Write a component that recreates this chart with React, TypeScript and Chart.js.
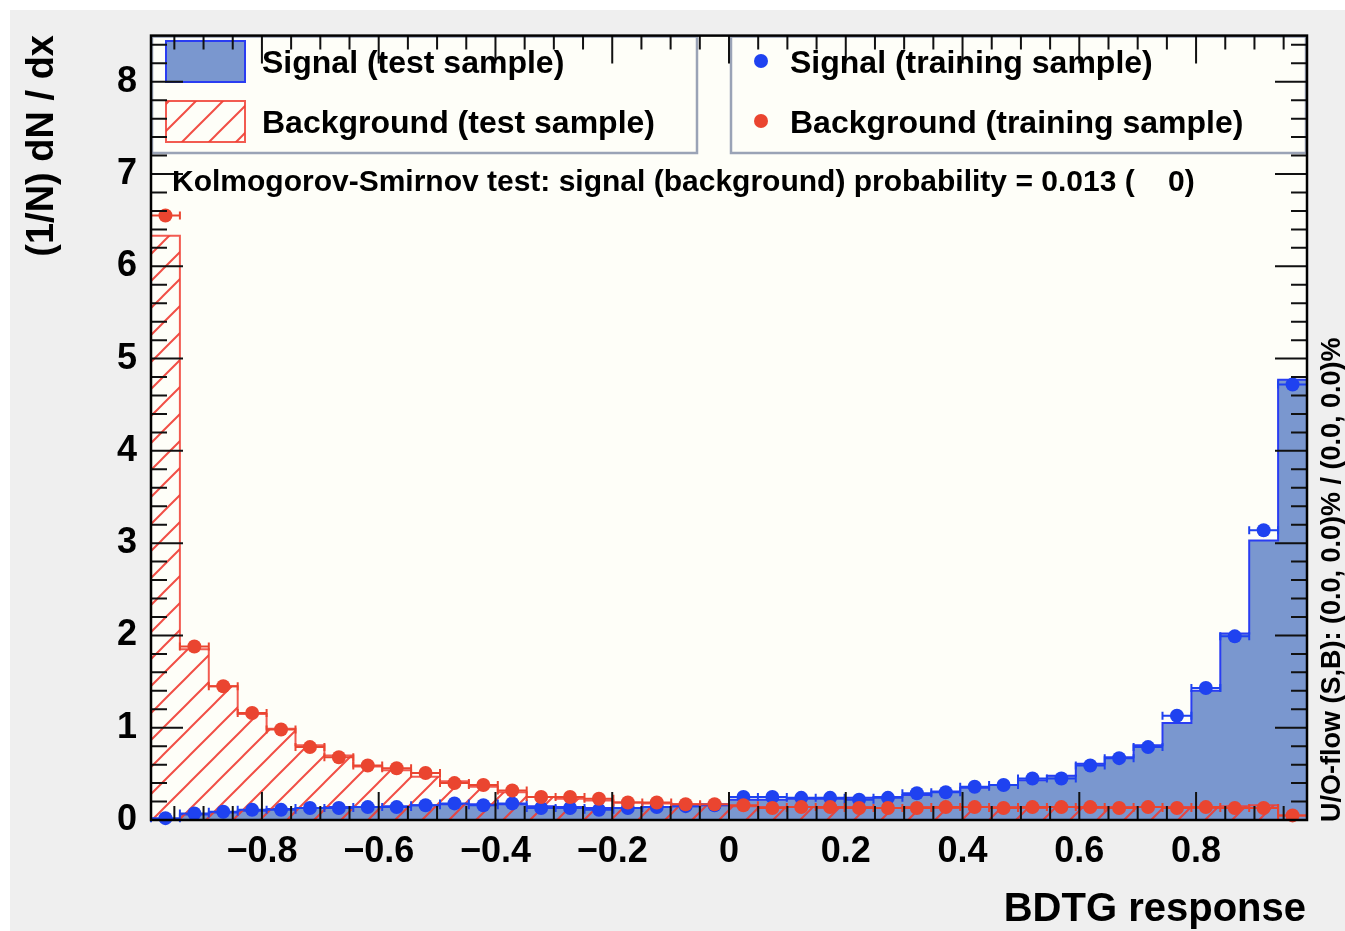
import React, { useEffect, useRef } from 'react';
import { Chart, registerables } from 'chart.js';

Chart.register(...registerables);

// ---- axis ranges & labels ----
const X_MIN = -0.99;
const X_MAX = 0.99;
const Y_MIN = 0;
const Y_MAX = 8.5;
const X_TICKS = [-0.8, -0.6, -0.4, -0.2, 0, 0.2, 0.4, 0.6, 0.8];
const Y_TICKS = [0, 1, 2, 3, 4, 5, 6, 7, 8];

// ---- data (40 bins) ----
const signalTest = [
  0.01, 0.06, 0.08, 0.10, 0.12, 0.13, 0.14, 0.14, 0.15, 0.16,
  0.17, 0.17, 0.17, 0.15, 0.14, 0.13, 0.13, 0.14, 0.15, 0.17,
  0.22, 0.22, 0.23, 0.23, 0.24, 0.25, 0.27, 0.31, 0.35, 0.38,
  0.43, 0.48, 0.61, 0.68, 0.81, 1.05, 1.40, 2.02, 3.03, 4.77,
];
const backgroundTest = [
  6.33, 1.85, 1.45, 1.15, 0.99, 0.81, 0.70, 0.58, 0.54, 0.47,
  0.42, 0.36, 0.30, 0.25, 0.23, 0.21, 0.19, 0.18, 0.17, 0.16,
  0.15, 0.14, 0.14, 0.13, 0.14, 0.13, 0.14, 0.13, 0.14, 0.14,
  0.13, 0.14, 0.13, 0.14, 0.14, 0.14, 0.13, 0.15, 0.16, 0.05,
];
const signalTrain = [
  0.02, 0.07, 0.09, 0.11, 0.11, 0.13, 0.13, 0.14, 0.14, 0.16,
  0.18, 0.16, 0.18, 0.13, 0.13, 0.11, 0.13, 0.14, 0.15, 0.16,
  0.25, 0.25, 0.24, 0.24, 0.22, 0.24, 0.29, 0.30, 0.36, 0.38,
  0.45, 0.45, 0.59, 0.67, 0.79, 1.13, 1.43, 1.99, 3.14, 4.72,
];
const backgroundTrain = [
  6.55, 1.88, 1.45, 1.16, 0.98, 0.79, 0.68, 0.59, 0.56, 0.51,
  0.40, 0.38, 0.32, 0.25, 0.25, 0.23, 0.19, 0.19, 0.17, 0.17,
  0.16, 0.13, 0.14, 0.14, 0.13, 0.13, 0.13, 0.14, 0.14, 0.13,
  0.14, 0.14, 0.14, 0.13, 0.14, 0.13, 0.14, 0.13, 0.13, 0.05,
];

const LEGEND_LABELS = [
  'Signal (test sample)',
  'Background (test sample)',
  'Signal (training sample)',
  'Background (training sample)',
];
const KS_TEXT = 'Kolmogorov-Smirnov test: signal (background) probability = 0.013 (    0)';
const X_TITLE = 'BDTG response';
const Y_TITLE = '(1/N) dN / dx';
const FLOW_TEXT = 'U/O-flow (S,B): (0.0, 0.0)% / (0.0, 0.0)%';

// ---- derived bins ----
const N_BINS = signalTest.length;
const BIN_W = (X_MAX - X_MIN) / N_BINS;
const EDGES = Array.from({ length: N_BINS + 1 }, (_, i) => X_MIN + i * BIN_W);
const CENTERS = EDGES.slice(0, -1).map((e) => e + BIN_W / 2);
// each edge point carries the value of the bin that ends there
const stepData = (v: number[]) => EDGES.map((x, i) => ({ x, y: v[Math.max(i - 1, 0)] }));
const pointData = (v: number[]) => CENTERS.map((x, i) => ({ x, y: v[i] }));

// ---- styles ----
const FONT = '"Liberation Sans", Arial, Helvetica, sans-serif';
const SIG_FILL = '#7a97cf';
const SIG_LINE = '#2a3df2';
const BKG_LINE = 'rgba(240,62,52,0.85)';
const SIG_DOT = '#1f42f0';
const BKG_DOT = '#ea4530';
const PLOT_BG = '#fefef8';
const PAGE_BG = '#efefef';
const LEGEND_BORDER = '#9aa3b6';

function makeHatch(ctx: CanvasRenderingContext2D) {
  const s = 27;
  const pc = document.createElement('canvas');
  pc.width = s;
  pc.height = s;
  const p = pc.getContext('2d')!;
  p.strokeStyle = 'rgba(240,60,50,0.9)';
  p.lineWidth = 2;
  p.beginPath();
  p.moveTo(0, s);
  p.lineTo(s, 0);
  p.moveTo(-3, 3);
  p.lineTo(3, -3);
  p.moveTo(s - 3, s + 3);
  p.lineTo(s + 3, s - 3);
  p.stroke();
  return ctx.createPattern(pc, 'repeat')!;
}

export default function App() {
  const ref = useRef<HTMLCanvasElement | null>(null);

  useEffect(() => {
    const canvas = ref.current!;
    const ctx = canvas.getContext('2d')!;
    const hatch = makeHatch(ctx);

    const rootPlugin = {
      id: 'rootStyle',
      beforeDraw(chart: any) {
        const c = chart.ctx;
        const a = chart.chartArea;
        c.save();
        c.fillStyle = '#ffffff';
        c.fillRect(0, 0, chart.width, chart.height);
        c.fillStyle = PAGE_BG;
        c.fillRect(10, 10, chart.width - 10, chart.height - 10);
        c.fillStyle = PLOT_BG;
        c.fillRect(a.left, a.top, a.right - a.left, a.bottom - a.top);
        c.restore();
      },
      beforeDatasetDraw(chart: any, args: any) {
        if (args.index < 2) return;
        const c = chart.ctx;
        const xs = chart.scales.x;
        const half = (xs.getPixelForValue(BIN_W) - xs.getPixelForValue(0)) / 2;
        const meta = chart.getDatasetMeta(args.index);
        c.save();
        c.strokeStyle = args.index === 2 ? SIG_DOT : BKG_DOT;
        c.lineWidth = 2;
        c.beginPath();
        meta.data.forEach((pt: any) => {
          c.moveTo(pt.x - half, pt.y);
          c.lineTo(pt.x + half, pt.y);
          c.moveTo(pt.x - half, pt.y - 4);
          c.lineTo(pt.x - half, pt.y + 4);
          c.moveTo(pt.x + half, pt.y - 4);
          c.lineTo(pt.x + half, pt.y + 4);
        });
        c.stroke();
        c.restore();
      },
      afterDatasetsDraw(chart: any) {
        const c = chart.ctx;
        const a = chart.chartArea;
        const xs = chart.scales.x;
        const ys = chart.scales.y;
        c.save();
        // legend boxes
        c.strokeStyle = LEGEND_BORDER;
        c.lineWidth = 2.5;
        c.strokeRect(a.left + 1, a.top + 1, 697 - a.left - 1, 153 - a.top - 1);
        c.strokeRect(731, a.top + 1, a.right - 731 - 1, 153 - a.top - 1);
        // swatches
        c.fillStyle = SIG_FILL;
        c.fillRect(166, 41, 79, 41);
        c.strokeStyle = SIG_LINE;
        c.lineWidth = 2;
        c.strokeRect(166, 41, 79, 41);
        c.fillStyle = hatch;
        c.fillRect(166, 101, 79, 41);
        c.strokeStyle = BKG_LINE;
        c.strokeRect(166, 101, 79, 41);
        c.fillStyle = SIG_DOT;
        c.beginPath();
        c.arc(761, 61, 7, 0, Math.PI * 2);
        c.fill();
        c.fillStyle = BKG_DOT;
        c.beginPath();
        c.arc(761, 121, 7, 0, Math.PI * 2);
        c.fill();

        // frame ticks
        c.strokeStyle = '#111';
        c.lineWidth = 2;
        c.beginPath();
        const xMinor: number[] = [];
        for (let k = -19; k <= 19; k++) xMinor.push(k * 0.05);
        xMinor.forEach((v) => {
          const px = xs.getPixelForValue(v);
          const major = X_TICKS.some((t) => Math.abs(t - v) < 1e-6);
          const len = major ? 28 : 14;
          c.moveTo(px, a.bottom);
          c.lineTo(px, a.bottom - len);
          c.moveTo(px, a.top);
          c.lineTo(px, a.top + len);
        });
        for (let k = 0; k <= 42; k++) {
          const v = k * 0.2;
          if (v > Y_MAX) break;
          const py = ys.getPixelForValue(v);
          const major = k % 5 === 0;
          const len = major ? 32 : 16;
          c.moveTo(a.left, py);
          c.lineTo(a.left + len, py);
          c.moveTo(a.right, py);
          c.lineTo(a.right - len, py);
        }
        c.stroke();
        // frame
        c.lineWidth = 2.5;
        c.strokeStyle = '#000';
        c.strokeRect(a.left, a.top, a.right - a.left, a.bottom - a.top);
        c.restore();
      },
      afterDraw(chart: any) {
        const c = chart.ctx;
        c.save();
        c.fillStyle = '#000';
        c.textBaseline = 'middle';
        // legend texts
        c.font = `bold 32px ${FONT}`;
        c.textAlign = 'left';
        c.fillText(LEGEND_LABELS[0], 262, 64);
        c.fillText(LEGEND_LABELS[1], 262, 124);
        c.fillText(LEGEND_LABELS[2], 790, 64);
        c.fillText(LEGEND_LABELS[3], 790, 124);
        // KS
        c.font = `bold 30px ${FONT}`;
        c.fillText(KS_TEXT, 172, 183);
        // x title
        c.font = `bold 40px ${FONT}`;
        c.textAlign = 'right';
        c.fillText(X_TITLE, 1306, 910);
        // y title
        c.save();
        c.translate(43, 35);
        c.rotate(-Math.PI / 2);
        c.font = `bold 38px ${FONT}`;
        c.textAlign = 'right';
        c.fillText(Y_TITLE, 0, 0);
        c.restore();
        // flow text
        c.save();
        c.translate(1333, 822);
        c.rotate(-Math.PI / 2);
        c.font = `bold 27px ${FONT}`;
        c.textAlign = 'left';
        c.fillText(FLOW_TEXT, 0, 0);
        c.restore();
        c.restore();
      },
    };

    const chart = new Chart(ctx, {
      type: 'line',
      data: {
        datasets: [
          {
            label: LEGEND_LABELS[0],
            data: stepData(signalTest),
            stepped: 'after',
            borderColor: SIG_LINE,
            borderWidth: 2,
            backgroundColor: SIG_FILL,
            fill: 'origin',
            pointRadius: 0,
            order: 4,
          },
          {
            label: LEGEND_LABELS[1],
            data: stepData(backgroundTest),
            stepped: 'after',
            borderColor: BKG_LINE,
            borderWidth: 2,
            backgroundColor: hatch,
            fill: 'origin',
            pointRadius: 0,
            order: 3,
          },
          {
            label: LEGEND_LABELS[2],
            data: pointData(signalTrain),
            showLine: false,
            pointRadius: 7,
            pointBackgroundColor: SIG_DOT,
            pointBorderWidth: 0,
            clip: false,
            order: 2,
          },
          {
            label: LEGEND_LABELS[3],
            data: pointData(backgroundTrain),
            showLine: false,
            pointRadius: 7,
            pointBackgroundColor: BKG_DOT,
            pointBorderWidth: 0,
            clip: false,
            order: 1,
          },
        ] as any,
      },
      options: {
        animation: false,
        responsive: false,
        devicePixelRatio: 1,
        layout: { padding: { left: 0, right: 38, top: 30, bottom: 0 } },
        plugins: { legend: { display: false }, tooltip: { enabled: false } },
        scales: {
          x: {
            type: 'linear',
            min: X_MIN,
            max: X_MAX,
            grid: { display: false, drawTicks: false },
            border: { display: false },
            afterBuildTicks: (s: any) => {
              s.ticks = X_TICKS.map((value) => ({ value }));
            },
            afterFit: (s: any) => {
              s.height = 111;
            },
            ticks: {
              autoSkip: false,
              maxRotation: 0,
              padding: 10,
              color: '#000',
              font: { size: 36, weight: 'bold', family: FONT },
              callback: (v: any) => {
                const n = Number(v);
                if (Math.abs(n) < 1e-9) return '0';
                return (n < 0 ? '\u2212' : '') + Math.abs(n).toFixed(1);
              },
            },
          },
          y: {
            type: 'linear',
            min: Y_MIN,
            max: Y_MAX,
            grid: { display: false, drawTicks: false },
            border: { display: false },
            afterBuildTicks: (s: any) => {
              s.ticks = Y_TICKS.map((value) => ({ value }));
            },
            afterFit: (s: any) => {
              s.width = 151;
            },
            ticks: {
              autoSkip: false,
              padding: 14,
              color: '#000',
              font: { size: 36, weight: 'bold', family: FONT },
              callback: (v: any) => String(v),
            },
          },
        },
      } as any,
      plugins: [rootPlugin],
    });

    return () => chart.destroy();
  }, []);

  return (
    <div style={{ position: 'fixed', left: 0, top: 0, width: 1345, height: 931, overflow: 'hidden' }}>
      <canvas ref={ref} width={1345} height={931} style={{ display: 'block', width: 1345, height: 931 }} />
    </div>
  );
}
